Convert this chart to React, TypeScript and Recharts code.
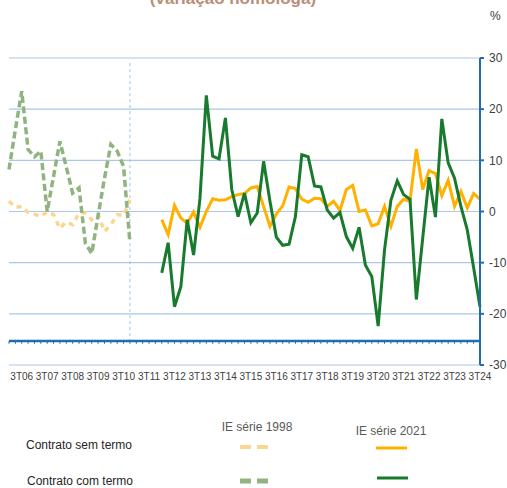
import { CartesianGrid, Line, LineChart, ReferenceLine, XAxis, YAxis } from 'recharts';

const YEARS = ['06', '07', '08', '09', '10', '11', '12', '13', '14', '15', '16', '17', '18', '19', '20', '21', '22', '23', '24'];
// 1T06 .. 3T24
const QUARTERS = YEARS.flatMap((y) => ['1T', '2T', '3T', '4T'].map((q) => q + y)).slice(0, 75);
const TICKS = YEARS.map((y) => '3T' + y);
const Y_TICKS = [-30, -20, -10, 0, 10, 20, 30];

// IE série 1998: 1T06 .. 4T10
const SEM_TERMO_1998 = [2.0, 0.8, 1.0, -0.2, -0.5, -1.0, 0.0, -0.6, -3.3, -2.0, -2.6, -0.3, -0.3, -1.6, -0.6, -3.9, -2.6, -0.6, -0.8, 2.3];
const COM_TERMO_1998 = [8.2, 16.0, 23.5, 12.1, 10.7, 11.8, 0.0, 6.9, 13.7, 8.7, 3.6, 4.6, -6.2, -8.2, -0.8, 6.5, 13.1, 11.8, 8.8, -6.1];

// IE série 2021: 1T12 .. 3T24
const SEM_TERMO_2021 = [
  -1.6, -4.5, 1.2, -1.3, -2.3, -0.1, -3.1, 0.0, 2.5, 2.2, 2.3, 2.9, 3.3, 3.5, 4.6, 4.9, 1.0, -2.9, -0.5, 1.1,
  4.8, 4.5, 2.4, 1.8, 2.6, 2.5, 1.0, 2.0, 0.2, 4.3, 5.1, 0.0, 0.3, -2.8, -2.4, 1.0, -2.9, 1.0, 2.4, 2.0,
  12.2, 4.3, 8.0, 7.4, 3.1, 6.1, 1.0, 3.9, 0.7, 3.5, 2.4,
];
const COM_TERMO_2021 = [
  -12.0, -6.1, -18.6, -14.7, -1.6, -8.5, 2.5, 22.7, 10.8, 10.3, 18.3, 4.3, -1.0, 3.6, -2.2, -0.3, 9.8, 2.0, -5.0, -6.6,
  -6.4, -1.0, 11.1, 10.7, 5.0, 4.8, 0.3, -1.3, -0.2, -4.9, -7.2, -3.1, -10.5, -12.7, -22.4, -7.5, 2.2, 6.0, 3.3, 2.4,
  -17.2, -5.2, 6.7, -1.1, 18.1, 9.5, 6.5, 1.0, -3.6, -11.0, -18.6,
];

const START_2021 = QUARTERS.indexOf('1T12');
const AXIS_CROSS = -25.3;
const BREAK_QUARTER = '4T10';

const data = QUARTERS.map((q, i) => ({
  q,
  sem98: i < SEM_TERMO_1998.length ? SEM_TERMO_1998[i] : null,
  com98: i < COM_TERMO_1998.length ? COM_TERMO_1998[i] : null,
  sem21: i >= START_2021 ? SEM_TERMO_2021[i - START_2021] : null,
  com21: i >= START_2021 ? COM_TERMO_2021[i - START_2021] : null,
}));

const FONT = '"Liberation Sans", Arial, sans-serif';
const AXIS_BLUE = '#1f6db0';
const GRID_BLUE = '#a9c8e6';
const ORANGE = '#ffb000';
const ORANGE_LIGHT = '#fdd591';
const GREEN = '#177a2d';
const GREEN_LIGHT = '#8fb47f';

export default function App() {
  return (
    <div style={{ position: 'absolute', left: 0, top: 0, width: 507, height: 488, background: '#fff', fontFamily: FONT }}>
      <LineChart width={507} height={488} data={data} margin={{ top: 58, right: 0, left: 9, bottom: 93 }}>
        <CartesianGrid vertical={false} stroke={GRID_BLUE} strokeWidth={1.2} />
        <XAxis
          dataKey="q"
          ticks={TICKS}
          interval={0}
          axisLine={false}
          tickLine={false}
          height={30}
          tick={{ fontSize: 10, fill: '#404040', fontFamily: FONT }}
        />
        <YAxis
          orientation="right"
          width={27}
          domain={[-30, 30]}
          ticks={Y_TICKS}
          interval={0}
          axisLine={{ stroke: AXIS_BLUE, strokeWidth: 2 }}
          tickLine={{ stroke: AXIS_BLUE, strokeWidth: 2 }}
          tickSize={4}
          tickMargin={5}
          tick={{ fontSize: 12, fill: '#404040', fontFamily: FONT }}
        />
        <ReferenceLine
          segment={[{ x: BREAK_QUARTER, y: 29 }, { x: BREAK_QUARTER, y: AXIS_CROSS }]}
          stroke="#9dc3e6"
          strokeDasharray="3 3"
        />
        <ReferenceLine y={AXIS_CROSS} stroke={AXIS_BLUE} strokeWidth={2.5} />
        {QUARTERS.map((q) => (
          <ReferenceLine
            key={q}
            segment={[{ x: q, y: AXIS_CROSS }, { x: q, y: AXIS_CROSS - 0.55 }]}
            stroke={AXIS_BLUE}
            strokeWidth={1}
          />
        ))}
        <Line dataKey="sem98" stroke={ORANGE_LIGHT} strokeWidth={3.5} strokeDasharray="5 5" dot={false} isAnimationActive={false} />
        <Line dataKey="com98" stroke={GREEN_LIGHT} strokeWidth={3.5} strokeDasharray="7 3.5" dot={false} isAnimationActive={false} />
        <Line dataKey="sem21" stroke={ORANGE} strokeWidth={3} dot={false} isAnimationActive={false} />
        <Line dataKey="com21" stroke={GREEN} strokeWidth={3} dot={false} isAnimationActive={false} />
      </LineChart>
      <svg width={507} height={488} style={{ position: 'absolute', left: 0, top: 0, pointerEvents: 'none' }}>
        <text x={233} y={4} textAnchor="middle" fontSize={17} fontWeight="bold" fill="#b98f7a" fontFamily={FONT}>
          (variação homóloga)
        </text>
        <text x={490} y={20} fontSize={12} fill="#404040" fontFamily={FONT}>%</text>
        <text x={257} y={431} textAnchor="middle" fontSize={12} fill="#595959" fontFamily={FONT}>IE série 1998</text>
        <text x={391} y={435} textAnchor="middle" fontSize={12} fill="#595959" fontFamily={FONT}>IE série 2021</text>
        <text x={26} y={449} fontSize={12} fill="#262626" fontFamily={FONT}>Contrato sem termo</text>
        <text x={27} y={485} fontSize={12} fill="#262626" fontFamily={FONT}>Contrato com termo</text>
        <line x1={240} x2={268} y1={447} y2={447} stroke={ORANGE_LIGHT} strokeWidth={4} strokeDasharray="11 6" />
        <line x1={376} x2={407} y1={448} y2={448} stroke={ORANGE} strokeWidth={3} />
        <line x1={240} x2={268} y1={481} y2={481} stroke={GREEN_LIGHT} strokeWidth={5} strokeDasharray="11 6" />
        <line x1={377} x2={408} y1={478} y2={478} stroke={GREEN} strokeWidth={3} />
      </svg>
    </div>
  );
}
